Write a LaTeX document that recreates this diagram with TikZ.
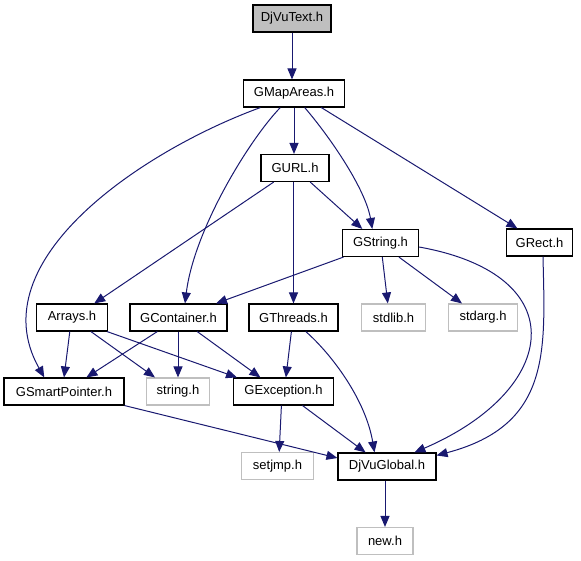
\documentclass[tikz,border=0pt]{standalone}
\usepackage{fontspec}
\setmainfont{Liberation Sans}
\usetikzlibrary{arrows.meta}
\definecolor{edgeblue}{HTML}{191970}
\definecolor{lightgr}{HTML}{BFBFBF}
\tikzset{
  box/.style={draw=black, line width=1.1pt, fill=white, inner sep=0pt, minimum height=27pt, font=\fontsize{13}{15}\selectfont},
  sysbox/.style={box, draw=lightgr},
  e/.style={draw=edgeblue, line width=1pt, -{Triangle[length=11pt,width=9pt]}},
}
\begin{document}
\begin{tikzpicture}[x=1pt,y=-1pt]
\useasboundingbox (0,0) rectangle (581,560);
\node[box, fill=lightgr, minimum width=78pt] (djvutext) at (292,18.5) {DjVuText.h};
\node[box, minimum width=101pt] (gmap) at (294,93.5) {GMapAreas.h};
\node[box, minimum width=68pt] (gurl) at (295,168) {GURL.h};
\node[box, minimum width=76pt] (gstring) at (380.5,243) {GString.h};
\node[box, minimum width=66pt] (grect) at (539.5,242.5) {GRect.h};
\node[box, minimum width=71pt] (arrays) at (72,317.5) {Arrays.h};
\node[box, minimum width=97pt] (gcont) at (178.5,317.5) {GContainer.h};
\node[box, minimum width=89pt] (gthreads) at (293.5,317.5) {GThreads.h};
\node[sysbox, minimum width=64pt] (stdlib) at (393.5,317.5) {stdlib.h};
\node[sysbox, minimum width=69pt] (stdarg) at (483,317.5) {stdarg.h};
\node[box, minimum width=120pt] (gsmart) at (64,391.5) {GSmartPointer.h};
\node[sysbox, minimum width=63pt] (string) at (178,391.5) {string.h};
\node[box, minimum width=100pt] (gexc) at (283.5,391.5) {GException.h};
\node[sysbox, minimum width=72pt] (setjmp) at (277.5,466) {setjmp.h};
\node[box, minimum width=98pt] (global) at (387,466.5) {DjVuGlobal.h};
\node[sysbox, minimum width=56pt] (newh) at (385,541) {new.h};

\draw[e] (djvutext.south) -- (djvutext.south |- gmap.north);
\draw[e] ([xshift=-33.6pt]gmap.south) .. controls (144,150) and (-22,260) .. ([xshift=-19.7pt]gsmart.north);
\draw[e] ([xshift=-13.7pt]gmap.south) .. controls (249,140) and (194,230) .. ([xshift=6.5pt]gcont.north);
\draw[e] (gmap.south) -- (gmap.south |- gurl.north);
\draw[e] ([xshift=10.7pt]gmap.south) .. controls (332.4,140) and (365.6,190) .. ([xshift=-8.2pt]gstring.north);
\draw[e] ([xshift=27.3pt]gmap.south) -- ([xshift=-22.1pt]grect.north);
\draw[e] ([xshift=-21.3pt]gurl.south) -- ([xshift=22.2pt]arrays.north);
\draw[e] (gthreads.north |- gurl.south) -- (gthreads.north);
\draw[e] ([xshift=15.2pt]gurl.south) -- ([xshift=-18.2pt]gstring.north);
\draw[e] ([xshift=-37pt]gstring.south) -- ([xshift=37.5pt]gcont.north);
\draw[e] ([xshift=1.8pt]gstring.south) -- ([xshift=-5.7pt]stdlib.north);
\draw[e] ([xshift=18.4pt]gstring.south) -- ([xshift=-21pt]stdarg.north);
\draw[e] ([yshift=-4pt]gstring.east) .. controls (576,275) and (559.5,390) .. ([xshift=27.4pt]global.north);
\draw[e] ([xshift=3.5pt]grect.south) .. controls (545,350) and (552,425) .. ([yshift=-3pt]global.north east);
\draw[e] ([xshift=-2.2pt]arrays.south) -- (gsmart.north);
\draw[e] ([xshift=18.9pt]arrays.south) -- ([xshift=-23pt]string.north);
\draw[e] ([xshift=35pt]arrays.south) -- ([xshift=-46.5pt]gexc.north);
\draw[e] ([xshift=-21.2pt]gcont.south) -- ([xshift=22.4pt]gsmart.north);
\draw[e] (string.north |- gcont.south) -- (string.north);
\draw[e] ([xshift=18.7pt]gcont.south) -- ([xshift=-23.1pt]gexc.north);
\draw[e] ([xshift=-2.1pt]gthreads.south) -- ([xshift=2.4pt]gexc.north);
\draw[e] ([xshift=12.3pt]gthreads.south) .. controls (332.4,355) and (365.6,400) .. ([xshift=-12.5pt]global.north);
\draw[e] (gsmart.south east) -- ([yshift=8.5pt]global.west);
\draw[e] ([xshift=-2.1pt]gexc.south) -- ([xshift=1.7pt]setjmp.north);
\draw[e] ([xshift=19pt]gexc.south) -- ([xshift=-21.4pt]global.north);
\draw[e] (newh.north |- global.south) -- (newh.north);
\end{tikzpicture}
\end{document}
